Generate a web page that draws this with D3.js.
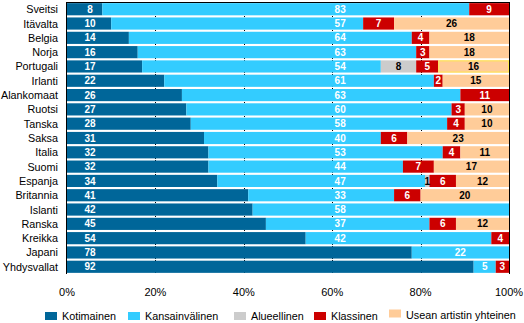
<!DOCTYPE html>
<html><head><meta charset="utf-8">
<script src="https://cdn.jsdelivr.net/npm/d3@7"></script>
<style>
html,body{margin:0;padding:0;background:#fff;}
svg{display:block;font-family:"Liberation Sans",Arial,sans-serif;}
</style></head>
<body>
<svg id="chart" width="524" height="323"></svg>
<script>
const countries = ["Sveitsi","Itävalta","Belgia","Norja","Portugali","Irlanti","Alankomaat","Ruotsi","Tanska","Saksa","Italia","Suomi","Espanja","Britannia","Islanti","Ranska","Kreikka","Japani","Yhdysvallat"];
const seriesNames = ["Kotimainen","Kansainvälinen","Alueellinen","Klassinen","Usean artistin yhteinen"];
const kotimainen     = [8,10,14,16,17,22,26,27,28,31,32,32,34,41,42,45,54,78,92];
const kansainvalinen = [83,57,64,63,54,61,63,60,58,40,53,44,47,33,58,37,42,22,5];
const alueellinen    = [0,0,0,0,8,0,0,0,0,0,0,0,1,0,0,0,0,0,0];
const klassinen      = [9,7,4,3,5,2,11,3,4,6,4,7,6,6,0,6,4,0,3];
const usean          = [0,26,18,18,16,15,0,10,10,23,11,17,12,20,0,12,0,0,0];
const tickValues = [0,0.2,0.4,0.6,0.8,1];

const colors = ["#006699","#33CCFF","#CCCCCC","#CC0000","#FFCC99"];
const labelColors = ["#fff","#fff","#000","#fff","#000"];

const rows = countries.map((c,i)=>({country:c,
  Kotimainen:kotimainen[i], "Kansainvälinen":kansainvalinen[i], Alueellinen:alueellinen[i],
  Klassinen:klassinen[i], "Usean artistin yhteinen":usean[i]}));

const svg = d3.select("#chart");
const x = d3.scaleLinear().domain([0,100]).range([67,509]);
const y = d3.scaleBand().domain(countries).range([2,274]).paddingInner(0.15).paddingOuter(0.08);

// gridlines (behind bars)
svg.append("g").selectAll("line").data(tickValues.slice(1,5)).join("line")
  .attr("x1",d=>Math.round(x(d*100))+0.5).attr("x2",d=>Math.round(x(d*100))+0.5)
  .attr("y1",2).attr("y2",274).attr("stroke","#000").attr("stroke-width",1)
  .attr("stroke-dasharray","1,1");

const stack = d3.stack().keys(seriesNames)(rows);

const g = svg.append("g");
stack.forEach((layer,si)=>{
  g.append("g").selectAll("rect").data(layer).join("rect")
    .attr("x",d=>x(d[0])).attr("width",d=>x(d[1])-x(d[0]))
    .attr("y",d=>y(d.data.country)).attr("height",y.bandwidth())
    .attr("fill",colors[si]);
});
// highlight border on Portugali usean segment as in reference
const pIdx = countries.indexOf("Portugali");
const pSeg = stack[4][pIdx];
g.append("rect").attr("x",x(pSeg[0])+0.5).attr("width",x(pSeg[1])-x(pSeg[0])-1)
  .attr("y",y("Portugali")+0.5).attr("height",y.bandwidth()-1)
  .attr("fill","none").attr("stroke","#FFE84D").attr("stroke-width",1);

// labels
const lbl = svg.append("g").attr("font-size","10px").attr("font-weight","bold").attr("text-anchor","middle");
stack.forEach((layer,si)=>{
  layer.forEach(d=>{
    const v = d[1]-d[0];
    if(v<=0) return;
    let cx;
    if(si===0) cx = x(5.2);
    else if(si===1 && d[0]<=61.8 && d[1]>=61.8) cx = x(61.8);
    else cx = x((d[0]+d[1])/2);
    lbl.append("text").attr("x",cx).attr("y",y(d.data.country)+y.bandwidth()/2+3.6)
      .attr("fill",labelColors[si]).text(v);
  });
});

// border lines
svg.append("line").attr("x1",66.5).attr("x2",509.5).attr("y1",2.5).attr("y2",2.5).attr("stroke","#000");
svg.append("line").attr("x1",66.5).attr("x2",66.5).attr("y1",2).attr("y2",274).attr("stroke","#000");
svg.append("line").attr("x1",509.5).attr("x2",509.5).attr("y1",2).attr("y2",274).attr("stroke","#000");

// category labels
svg.append("g").attr("font-size","10.8px").attr("text-anchor","end")
  .selectAll("text").data(countries).join("text")
  .attr("x",58).attr("y",d=>y(d)+y.bandwidth()/2+4).attr("fill","#000").text(d=>d);

// x axis tick labels
svg.append("g").attr("font-size","11px").attr("text-anchor","middle")
  .selectAll("text").data(tickValues).join("text")
  .attr("x",d=>x(d*100)).attr("y",296).text(d=>d3.format(".0%")(d));

// legend
const legendX = [45,128,234,314,389];
const leg = svg.append("g").attr("font-size","10.8px");
seriesNames.forEach((s,i)=>{
  const yy = i===4 ? 309.5 : 312;
  leg.append("rect").attr("x",legendX[i]).attr("y",yy).attr("width",12).attr("height",8).attr("fill",colors[i]);
  leg.append("text").attr("x",legendX[i]+17).attr("y",i===4?319:320).text(s);
});
</script>
</body></html>
